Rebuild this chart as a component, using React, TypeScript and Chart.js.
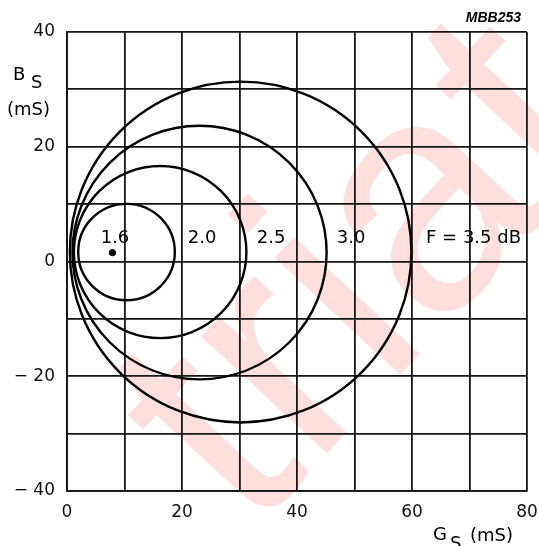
import React, { useEffect, useRef } from 'react';
import { Chart, registerables } from 'chart.js';

Chart.register(...registerables);

// Axis ranges / ticks
const xMin = 0;
const xMax = 80;
const yMin = -40;
const yMax = 40;
const gridStep = 10;
const labelStep = 20;

// Noise circles (F in dB), centre (G_S, B_S) and radius, all in mS
const circleLabels = ['2.0', '2.5', '3.0', 'F = 3.5 dB'];
const circleCenterG = [10.35, 16.2, 23.05, 30.2];
const circleCenterB = [1.65, 1.65, 1.55, 1.65];
const circleRadius = [8.4, 15.0, 22.1, 29.7];
// label anchor positions (centre x, baseline y) in data units
const circleLabelG = [23.5, 35.5, 49.4, 70.7];
const circleLabelB = [3.2, 3.2, 3.2, 3.2];

// Minimum noise figure point
const fminLabel = '1.6';
const fminG = [7.9];
const fminB = [1.55];
const fminLabelG = 8.35;
const fminLabelB = 3.2;

const watermarkText = 'triat';
const figureCode = 'MBB253';

const FONT = '"DejaVu Sans", "Liberation Sans", Arial, sans-serif';

const fmt = (v: number) => (v < 0 ? '\u2212 ' + Math.abs(v) : String(v));

const watermarkPlugin = {
  id: 'watermark',
  beforeDraw(chart: any) {
    const ctx = chart.ctx;
    ctx.save();
    ctx.translate(250, 536);
    ctx.rotate((-47 * Math.PI) / 180);
    ctx.font = '325px "Liberation Sans", Arial, sans-serif';
    ctx.fillStyle = 'rgba(255, 0, 0, 0.13)';
    ctx.textAlign = 'left';
    ctx.textBaseline = 'alphabetic';
    ctx.fillText(watermarkText, 0, 0);
    ctx.restore();
  },
};

const circlesPlugin = {
  id: 'noiseCircles',
  afterDatasetsDraw(chart: any) {
    const ctx = chart.ctx;
    const xs = chart.scales.x;
    const ys = chart.scales.y;
    ctx.save();
    ctx.strokeStyle = '#000';
    ctx.lineWidth = 2.4;
    for (let i = 0; i < circleRadius.length; i++) {
      const cx = xs.getPixelForValue(circleCenterG[i]);
      const cy = ys.getPixelForValue(circleCenterB[i]);
      const rx = Math.abs(xs.getPixelForValue(circleCenterG[i] + circleRadius[i]) - cx);
      const ry = Math.abs(ys.getPixelForValue(circleCenterB[i] + circleRadius[i]) - cy);
      ctx.beginPath();
      ctx.ellipse(cx, cy, rx, ry, 0, 0, Math.PI * 2);
      ctx.stroke();
    }
    // labels
    ctx.fillStyle = '#000';
    ctx.font = '18px ' + FONT;
    ctx.textAlign = 'center';
    ctx.textBaseline = 'alphabetic';
    for (let i = 0; i < circleLabels.length; i++) {
      ctx.fillText(circleLabels[i], xs.getPixelForValue(circleLabelG[i]), ys.getPixelForValue(circleLabelB[i]));
    }
    ctx.fillText(fminLabel, xs.getPixelForValue(fminLabelG), ys.getPixelForValue(fminLabelB));
    ctx.restore();
  },
  afterDraw(chart: any) {
    const ctx = chart.ctx;
    ctx.save();
    ctx.fillStyle = '#000';
    ctx.textAlign = 'left';
    ctx.textBaseline = 'alphabetic';
    ctx.font = '18px ' + FONT;
    // y-axis title B_S (mS)
    ctx.fillText('B', 13, 80);
    ctx.fillText('S', 31, 88);
    ctx.fillText('(mS)', 7, 115);
    // x-axis title G_S (mS)
    ctx.fillText('G', 433, 540);
    ctx.fillText('S', 450, 549);
    ctx.fillText('(mS)', 470, 541);
    // figure code
    ctx.font = 'italic bold 14px "Liberation Sans", Arial, sans-serif';
    ctx.textAlign = 'right';
    ctx.fillText(figureCode, 521, 22);
    ctx.restore();
  },
};

export default function App() {
  const canvasRef = useRef<HTMLCanvasElement | null>(null);

  useEffect(() => {
    if (!canvasRef.current) return;
    const gridColor = '#151515';
    const chart = new Chart(canvasRef.current, {
      type: 'scatter',
      data: {
        datasets: [
          {
            label: 'Fmin',
            data: fminG.map((g, i) => ({ x: g, y: fminB[i] })),
            backgroundColor: '#000',
            borderColor: '#000',
            pointRadius: 3.2,
            pointHoverRadius: 3.2,
          },
        ],
      },
      options: {
        animation: false,
        responsive: false,
        events: [],
        layout: { padding: { top: 32, right: 12, bottom: 0, left: 0 } },
        plugins: {
          legend: { display: false },
          tooltip: { enabled: false },
          title: { display: false },
        },
        scales: {
          x: {
            type: 'linear',
            min: xMin,
            max: xMax,
            afterFit: (s: any) => {
              s.height = 55;
              s.paddingLeft = 0;
              s.paddingRight = 0;
            },
            grid: { color: gridColor, lineWidth: 1.8, drawTicks: false },
            border: { display: true, color: gridColor, width: 1.8 },
            ticks: {
              stepSize: gridStep,
              padding: 11,
              color: '#111',
              font: { family: FONT, size: 17 },
              maxRotation: 0,
              autoSkip: false,
              callback: (v: any) => (Number(v) % labelStep === 0 ? fmt(Number(v)) : ''),
            },
          },
          y: {
            type: 'linear',
            min: yMin,
            max: yMax,
            afterFit: (s: any) => {
              s.width = 67;
              s.paddingTop = 0;
              s.paddingBottom = 0;
            },
            grid: { color: gridColor, lineWidth: 1.8, drawTicks: false },
            border: { display: true, color: gridColor, width: 1.8 },
            ticks: {
              stepSize: gridStep,
              padding: 12,
              color: '#111',
              font: { family: FONT, size: 17 },
              autoSkip: false,
              callback: (v: any) => (Number(v) % labelStep === 0 ? fmt(Number(v)) : ''),
            },
          },
        },
      },
      plugins: [watermarkPlugin, circlesPlugin],
    } as any);
    return () => chart.destroy();
  }, []);

  return (
    <div style={{ position: 'fixed', left: 0, top: 0, width: 539, height: 546, background: '#fff' }}>
      <canvas ref={canvasRef} width={539} height={546} style={{ display: 'block', width: 539, height: 546 }} />
    </div>
  );
}
